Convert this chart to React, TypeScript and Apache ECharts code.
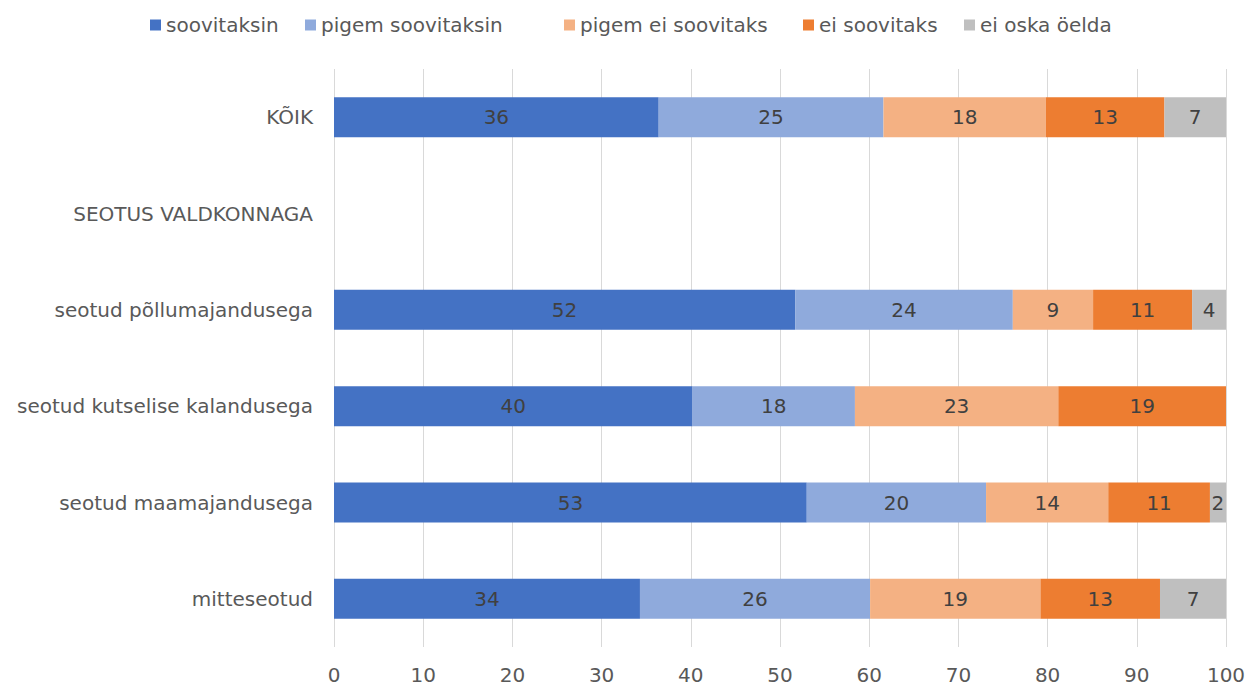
import React, { useEffect, useRef } from "react";
import * as echarts from "echarts";

const categories = [
  "KÕIK",
  "SEOTUS VALDKONNAGA",
  "seotud põllumajandusega",
  "seotud kutselise kalandusega",
  "seotud maamajandusega",
  "mitteseotud",
];
const seriesNames = ["soovitaksin", "pigem soovitaksin", "pigem ei soovitaks", "ei soovitaks", "ei oska öelda"];
const colors = ["#4472C4", "#8FAADC", "#F4B183", "#ED7D31", "#BFBFBF"];

const soovitaksin = [36.4, null, 51.7, 40.2, 53.0, 34.3];
const pigemSoovitaksin = [25.2, null, 24.4, 18.2, 20.1, 25.8];
const pigemEiSoovitaks = [18.2, null, 9.0, 22.8, 13.7, 19.1];
const eiSoovitaks = [13.3, null, 11.1, 18.8, 11.4, 13.4];
const eiOskaOelda = [6.9, null, 3.8, 0, 1.8, 7.4];
const seriesData = [soovitaksin, pigemSoovitaksin, pigemEiSoovitaks, eiSoovitaks, eiOskaOelda];

const xTicks = [0, 10, 20, 30, 40, 50, 60, 70, 80, 90, 100];

// left edge of each legend item (icon)
const legendLefts = [150, 305, 564, 803, 964];

const FONT = "DejaVu Sans";
const FS = 20;

export default function App() {
  const ref = useRef<HTMLDivElement>(null);
  useEffect(() => {
    if (!ref.current) return;
    const chart = echarts.init(ref.current, undefined, { renderer: "svg" });
    chart.setOption({
      animation: false,
      backgroundColor: "#ffffff",
      textStyle: { fontFamily: FONT },
      legend: seriesNames.map((name, i) => ({
        top: 15,
        left: legendLefts[i],
        padding: 0,
        itemWidth: 11,
        itemHeight: 11,
        icon: "rect",
        textStyle: { fontFamily: FONT, fontSize: FS, color: "#595959" },
        data: [name],
      })),
      grid: { left: 334, right: 24, top: 69, bottom: 39, containLabel: false },
      xAxis: {
        type: "value",
        min: xTicks[0],
        max: xTicks[xTicks.length - 1],
        interval: 10,
        axisLine: { show: false },
        axisTick: { show: false },
        splitLine: { show: true, lineStyle: { color: "#D9D9D9", width: 1 } },
        axisLabel: { fontFamily: FONT, fontSize: FS, color: "#595959", margin: 18 },
      },
      yAxis: {
        type: "category",
        inverse: true,
        data: categories,
        axisLine: { show: false },
        axisTick: { show: false },
        axisLabel: { fontFamily: FONT, fontSize: FS, color: "#595959", margin: 21 },
      },
      series: seriesNames.map((name, i) => ({
        name,
        type: "bar",
        stack: "total",
        barWidth: 40,
        itemStyle: { color: colors[i] },
        label: {
          show: true,
          position: "inside",
          fontFamily: FONT,
          fontSize: FS,
          color: "#404040",
          formatter: (p: any) => (p.value > 0 ? String(Math.round(p.value)) : ""),
        },
        data: seriesData[i],
      })),
    });
    return () => chart.dispose();
  }, []);
  return (
    <div
      ref={ref}
      style={{ position: "fixed", left: 0, top: 0, width: 1250, height: 686, background: "#fff" }}
    />
  );
}
